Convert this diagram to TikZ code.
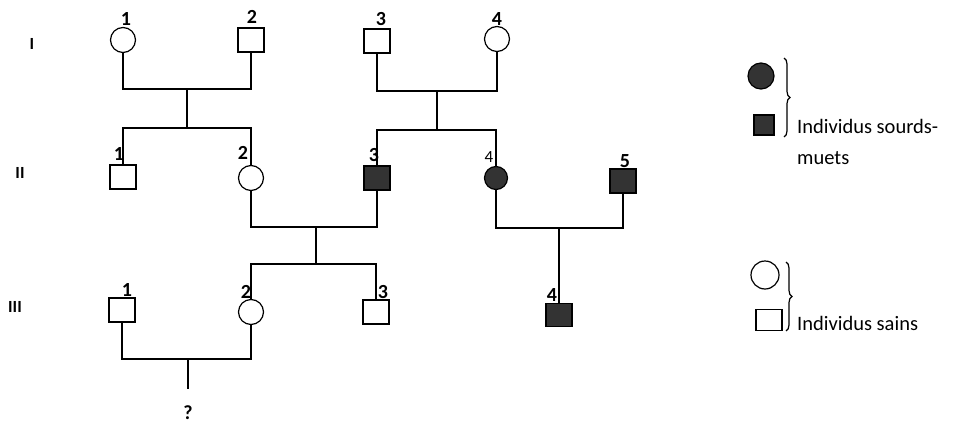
\documentclass[tikz,border=0pt]{standalone}
\usepackage{fontspec}
\setmainfont{Carlito}
\usetikzlibrary{decorations.pathreplacing}
\begin{document}
\begin{tikzpicture}[x=1pt,y=-1pt,
  lw/.style={line width=1.2pt},
  male/.style={draw,lw,rectangle,minimum width=26pt,minimum height=24pt,inner sep=0pt},
  female/.style={draw,lw,circle,minimum size=25pt,inner sep=0pt},
  aff/.style={fill=black!80},
  num/.style={font=\fontsize{20}{20}\selectfont\bfseries,inner sep=0pt},
  gen/.style={font=\fontsize{17}{17}\selectfont\bfseries,inner sep=0pt},
  leg/.style={font=\fontsize{20.5}{21}\selectfont,inner sep=0pt,anchor=west},
  conn/.style={lw}]
\useasboundingbox (0,0) rectangle (955,423);
% generation labels
\node[gen] (gI) at (32,44) {I};
\node[gen] (gII) at (20,173) {II};
\node[gen] (gIII) at (15,307) {III};
% generation I
\node[female] (i1) at (123,40) {};
\node[male] (i2) at (251,40) {};
\node[male] (i3) at (377,41) {};
\node[female] (i4) at (497,39) {};
\node[num] (li1) at (126,19) {1};
\node[num] (li2) at (252,17) {2};
\node[num] (li3) at (381,19) {3};
\node[num] (li4) at (497,19) {4};
% generation II
\node[male] (ii1) at (123,177) {};
\node[female] (ii2) at (251,178) {};
\node[male,aff] (ii3) at (377,178) {};
\node[female,aff,minimum size=23pt] (ii4) at (496,178) {};
\node[male,aff] (ii5) at (623,181) {};
\node[num] (lii1) at (119,154) {1};
\node[num] (lii2) at (243,153) {2};
\node[num] (lii3) at (374,155) {3};
\node[num,font=\fontsize{17}{17}\selectfont] (lii4) at (489,157) {4};
\node[num] (lii5) at (625,161) {5};
% generation III
\node[male] (iii1) at (122,310) {};
\node[female] (iii2) at (251,312) {};
\node[male] (iii3) at (376,312) {};
\node[male,aff,minimum width=26pt,minimum height=23pt] (iii4) at (559,315) {};
\node[num] (liii1) at (127,290) {1};
\node[num] (liii2) at (246,292) {2};
\node[num] (liii3) at (383,292) {3};
\node[num] (liii4) at (552,295) {4};
% connectors
\coordinate (m1) at (187,89);
\coordinate (s1) at (187,128);
\draw[conn] (i1.south) |- (m1) -| (i2.south);
\draw[conn] (m1) -- (s1);
\draw[conn] (ii1.north) |- (s1) -| (ii2.north);
\coordinate (m2) at (437,91);
\coordinate (s2) at (437,130);
\draw[conn] (i3.south) |- (m2) -| (i4.south);
\draw[conn] (m2) -- (s2);
\draw[conn] (ii3.north) |- (s2) -| (ii4.north);
\coordinate (m3) at (316,227);
\coordinate (s3) at (316,264);
\draw[conn] (ii2.south) |- (m3) -| (ii3.south);
\draw[conn] (m3) -- (s3);
\draw[conn] (iii2.north) |- (s3) -| (iii3.north);
\coordinate (m4) at (559,228);
\draw[conn] (ii4.south) |- (m4) -| (ii5.south);
\draw[conn] (m4) -- (iii4.north);
\coordinate (m5) at (188,359);
\coordinate (q) at (188,389);
\draw[conn] (iii1.south) |- (m5) -| (iii2.south);
\draw[conn] (m5) -- (q);
\node[num] (qm) at (188,413) {?};
% legend
\node[draw,lw,circle,aff,minimum size=26pt,inner sep=0pt] (la) at (761,76) {};
\node[draw,lw,rectangle,aff,minimum size=20pt,inner sep=0pt] (lb) at (764,125) {};
\draw[lw,decorate,decoration={brace,amplitude=6pt}] (784,58) -- (784,137);
\node[leg] (ta) at (797,126) {Individus sourds-};
\node[leg] (tb) at (797,158) {muets};
\node[draw,lw,circle,minimum size=28pt,inner sep=0pt] (lc) at (765,275) {};
\node[draw,lw,rectangle,minimum width=26pt,minimum height=21pt,inner sep=0pt] (ld) at (769,320) {};
\draw[lw,decorate,decoration={brace,amplitude=6pt}] (786,262) -- (786,331);
\node[leg] (tc) at (797,323) {Individus sains};
\end{tikzpicture}
\end{document}
